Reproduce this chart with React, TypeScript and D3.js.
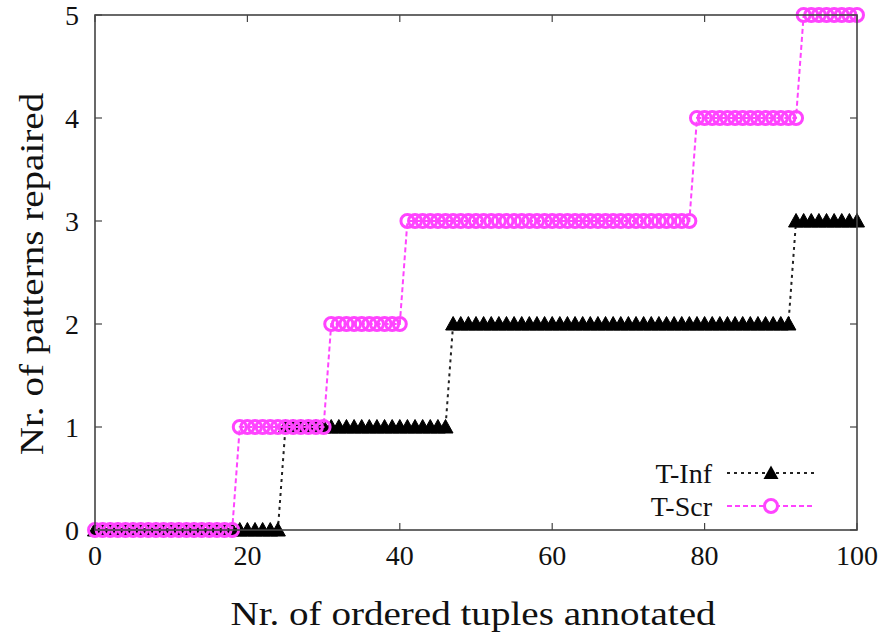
import React from 'react';
import * as d3 from 'd3';

// x positions 0..100 (step functions)
const xs: number[] = d3.range(0, 101);
// [first x of the level, level]
const infSteps: [number, number][] = [[0, 0], [25, 1], [47, 2], [92, 3]];
const scrSteps: [number, number][] = [[0, 0], [19, 1], [31, 2], [41, 3], [79, 4], [93, 5]];
const xTicks = [0, 20, 40, 60, 80, 100];
const yTicks = [0, 1, 2, 3, 4, 5];

const levelAt = (steps: [number, number][], x: number) => {
    let v = 0;
    steps.forEach(s => { if (x >= s[0]) v = s[1]; });
    return v;
};
const tInf = xs.map(x => levelAt(infSteps, x));
const tScr = xs.map(x => levelAt(scrSteps, x));

const MAGENTA = '#ff44ff';

const App = () => {
    const margin = { top: 15, right: 27, bottom: 106, left: 95 };
    const W = 884, H = 636;
    const width = W - margin.left - margin.right;
    const height = H - margin.top - margin.bottom;

    const x = d3.scaleLinear().domain([0, 100]).range([0, width]);
    const y = d3.scaleLinear().domain([0, 5]).range([height, 0]);

    const line = d3.line<[number, number]>().x(d => x(d[0])).y(d => y(d[1]));
    const infPts = xs.map((v, i) => [v, tInf[i]] as [number, number]);
    const scrPts = xs.map((v, i) => [v, tScr[i]] as [number, number]);

    const tri = (cx: number, cy: number, s = 7.5) =>
        `M${cx},${cy - s} L${cx + s},${cy + s * 0.8} L${cx - s},${cy + s * 0.8}Z`;

    const fs = { fontFamily: '"Liberation Serif", "Times New Roman", Times, serif' };

    return (
        <svg width={W} height={H} style={{ position: 'absolute', left: 0, top: 0 }}>
            <g transform={`translate(${margin.left},${margin.top})`}>
                {yTicks.map(t => (
                    <g key={'y' + t}>
                        <line x1={0} x2={7} y1={y(t)} y2={y(t)} stroke="#444" strokeWidth={1.2} />
                        <line x1={width} x2={width - 7} y1={y(t)} y2={y(t)} stroke="#444" strokeWidth={1.2} />
                        <text style={fs} x={-16} y={y(t)} dy="0.35em" textAnchor="end" fontSize={28} fill="#111">{t}</text>
                    </g>
                ))}
                {xTicks.map(t => (
                    <g key={'x' + t}>
                        <line x1={x(t)} x2={x(t)} y1={height} y2={height - 7} stroke="#444" strokeWidth={1.2} />
                        <line x1={x(t)} x2={x(t)} y1={0} y2={7} stroke="#444" strokeWidth={1.2} />
                        <text style={fs} x={x(t)} y={height + 35} textAnchor="middle" fontSize={28} fill="#111">{t}</text>
                    </g>
                ))}

                {/* T-Inf */}
                <path d={line(infPts) || ''} fill="none" stroke="#222" strokeWidth={2} strokeDasharray="3,4" />
                {infPts.map((p, i) => (
                    <path key={'i' + i} d={tri(x(p[0]), y(p[1]))} fill="#000" stroke="#000" strokeWidth={1} />
                ))}

                {/* T-Scr */}
                <path d={line(scrPts) || ''} fill="none" stroke={MAGENTA} strokeWidth={2} strokeDasharray="5,3" />
                {scrPts.map((p, i) => (
                    <circle key={'s' + i} cx={x(p[0])} cy={y(p[1])} r={6.5} fill="none" stroke={MAGENTA} strokeWidth={3} />
                ))}

                <rect x={0} y={0} width={width} height={height} fill="none" stroke="#444" strokeWidth={1.6} />

                {/* legend */}
                <g transform={`translate(${617},${458})`}>
                    <text style={fs} x={0} y={0} dy="0.35em" textAnchor="end" fontSize={28} fill="#111">T-Inf</text>
                    <line x1={15} x2={103} y1={0} y2={0} stroke="#222" strokeWidth={2} strokeDasharray="3,4" />
                    <path d={tri(59, 0)} fill="#000" />
                    <text style={fs} x={0} y={33} dy="0.35em" textAnchor="end" fontSize={28} fill="#111">T-Scr</text>
                    <line x1={15} x2={103} y1={33} y2={33} stroke={MAGENTA} strokeWidth={2} strokeDasharray="5,3" />
                    <circle cx={59} cy={33} r={6.5} fill="#fff" stroke={MAGENTA} strokeWidth={3} />
                </g>
            </g>
            <text style={fs} transform="translate(473,625) scale(1.15,1)" textAnchor="middle" fontSize={34} fill="#111">Nr. of ordered tuples annotated</text>
            <text style={fs} transform="translate(43,274) rotate(-90) scale(1.15,1)" textAnchor="middle" fontSize={34} fill="#111">Nr. of patterns repaired</text>
        </svg>
    );
};

export default App;
